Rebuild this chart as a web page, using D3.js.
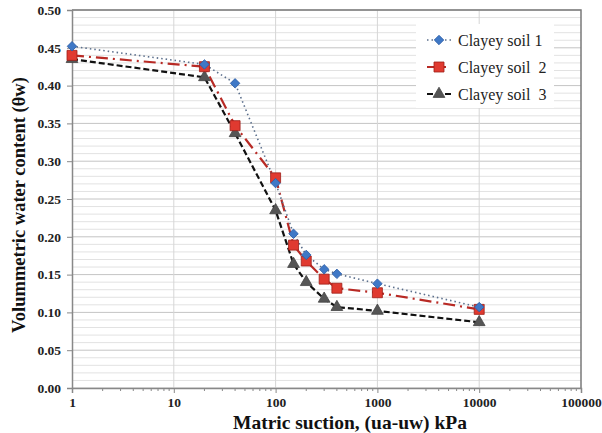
<!DOCTYPE html>
<html><head><meta charset="utf-8">
<script src="https://cdn.jsdelivr.net/npm/d3@7"></script>
<style>body{margin:0;background:#fff}svg{display:block}</style>
</head><body><div id="chart"></div>
<script>
const suction = [1, 20, 40, 100, 150, 200, 300, 400, 1000, 10000];
const soil1 = [0.452, 0.428, 0.403, 0.271, 0.204, 0.176, 0.157, 0.151, 0.138, 0.107];
const soil2 = [0.440, 0.425, 0.347, 0.278, 0.189, 0.168, 0.144, 0.132, 0.126, 0.104];
const soil3 = [0.435, 0.411, 0.337, 0.235, 0.164, 0.140, 0.118, 0.107, 0.102, 0.087];
const seriesNames = ["Clayey soil 1", "Clayey soil  2", "Clayey soil  3"];
const xTicks = [1, 10, 100, 1000, 10000, 100000];
const yTicks = [0, 0.05, 0.10, 0.15, 0.20, 0.25, 0.30, 0.35, 0.40, 0.45, 0.50];

const W = 602, H = 433;
const m = {l: 72, t: 10, r: 21, b: 45};
const iw = W - m.l - m.r, ih = H - m.t - m.b;
const svg = d3.select("#chart").append("svg").attr("width", W).attr("height", H);
const g = svg.append("g").attr("transform", `translate(${m.l},${m.t})`);
const x = d3.scaleLog().domain([1, 100000]).range([0, iw]);
const y = d3.scaleLinear().domain([0, 0.5]).range([ih, 0]);
const font = "'Liberation Serif','Times New Roman',serif";

// minor horizontal grid
g.append("g").selectAll("line").data(d3.range(0, 51).map(i => i / 100)).join("line")
  .attr("x1", 0).attr("x2", iw).attr("y1", d => y(d)).attr("y2", d => y(d))
  .attr("stroke", d => Math.round(d * 100) % 5 === 0 ? "#c4c4c4" : "#e2e2e2").attr("stroke-width", 1);
// vertical grid
g.append("g").selectAll("line").data(xTicks.slice(1, -1)).join("line")
  .attr("x1", d => x(d)).attr("x2", d => x(d)).attr("y1", 0).attr("y2", ih)
  .attr("stroke", "#d6d6d6");
// border top/right
g.append("path").attr("d", `M0,0H${iw}V${ih}`).attr("fill", "none").attr("stroke", "#7a7a7a").attr("stroke-width", 1.5);

// axes
const xAxis = d3.axisBottom(x).tickValues(xTicks).tickFormat(d3.format("d")).tickSize(5).tickPadding(4);
const gx = g.append("g").attr("transform", `translate(0,${ih})`).call(xAxis);
const minor = [];
for (let dec = 1; dec < 100000; dec *= 10) for (let k = 2; k <= 9; k++) minor.push(dec * k);
gx.append("g").selectAll("line").data(minor).join("line")
  .attr("x1", d => x(d)).attr("x2", d => x(d)).attr("y1", 0).attr("y2", 3).attr("stroke", "#888");
const yAxis = d3.axisLeft(y).tickValues(yTicks).tickFormat(d3.format(".2f")).tickSize(5).tickPadding(6);
const gy = g.append("g").call(yAxis);
[gx, gy].forEach(a => {
  a.attr("font-family", null);
  a.select(".domain").attr("stroke", "#888").attr("stroke-width", 1.5);
  a.selectAll(".tick line").attr("stroke", "#888");
  a.selectAll("text").style("font-family", font).attr("font-weight", "bold").attr("font-size", 13.5).attr("fill", "#222");
});

// series
const series = [
  {vals: soil1, color: "#5b6f8c", dash: "1.5,3", width: 1.6, marker: "diamond", fill: "#3f78c6", stroke: "#2d5fa8"},
  {vals: soil2, color: "#b82a25", dash: "12,5,2,5", width: 2.2, marker: "square", fill: "#e03a30", stroke: "#9e1e18"},
  {vals: soil3, color: "#111", dash: "6,3", width: 2.2, marker: "triangle", fill: "#555", stroke: "#444"}
];
const symType = {diamond: d3.symbolSquare, square: d3.symbolSquare, triangle: d3.symbolTriangle};
const symSize = {diamond: 45, square: 100, triangle: 60};
const symRot = {diamond: 45, square: 0, triangle: 0};
const line = d3.line().x(d => x(d[0])).y(d => y(d[1]));
series.slice().reverse().forEach(s => {
  const pts = suction.map((v, i) => [v, s.vals[i]]);
  g.append("path").datum(pts).attr("d", line).attr("fill", "none")
    .attr("stroke", s.color).attr("stroke-width", s.width).attr("stroke-dasharray", s.dash);
});
series.slice().reverse().forEach(s => {
  const pts = suction.map((v, i) => [v, s.vals[i]]);
  g.append("g").selectAll("path").data(pts).join("path")
    .attr("transform", d => `translate(${x(d[0])},${y(d[1])}) rotate(${symRot[s.marker]})`)
    .attr("d", d3.symbol(symType[s.marker], symSize[s.marker]))
    .attr("fill", s.fill).attr("stroke", s.stroke).attr("stroke-width", 0.8);
});

// legend
const lg = svg.append("g").attr("transform", "translate(416,24)");
lg.append("rect").attr("width", 138).attr("height", 84).attr("fill", "#fff");
series.forEach((s, i) => {
  const row = lg.append("g").attr("transform", `translate(0,${16 + i * 27})`);
  row.append("line").attr("x1", 11).attr("x2", 35).attr("stroke", s.color)
    .attr("stroke-width", s.width).attr("stroke-dasharray", s.dash);
  row.append("path").attr("transform", `translate(23,0) rotate(${symRot[s.marker]})`)
    .attr("d", d3.symbol(symType[s.marker], symSize[s.marker])).attr("fill", s.fill).attr("stroke", s.stroke).attr("stroke-width", 0.8);
  row.append("text").attr("x", 42).attr("y", 5.5).text(seriesNames[i])
    .style("font-family", font).attr("font-size", 16).attr("fill", "#222").attr("xml:space", "preserve").style("white-space", "pre");
});

// titles
svg.append("text").attr("x", 350).attr("y", 429).attr("text-anchor", "middle")
  .style("font-family", font).attr("font-weight", "bold").attr("font-size", 19.5).attr("fill", "#111")
  .text("Matric suction, (ua-uw) kPa");
svg.append("text").attr("transform", `translate(25,205) rotate(-90)`).attr("text-anchor", "middle")
  .style("font-family", font).attr("font-weight", "bold").attr("font-size", 18.5).attr("fill", "#111")
  .text("Volummetric water content (θw)");
</script></body></html>
